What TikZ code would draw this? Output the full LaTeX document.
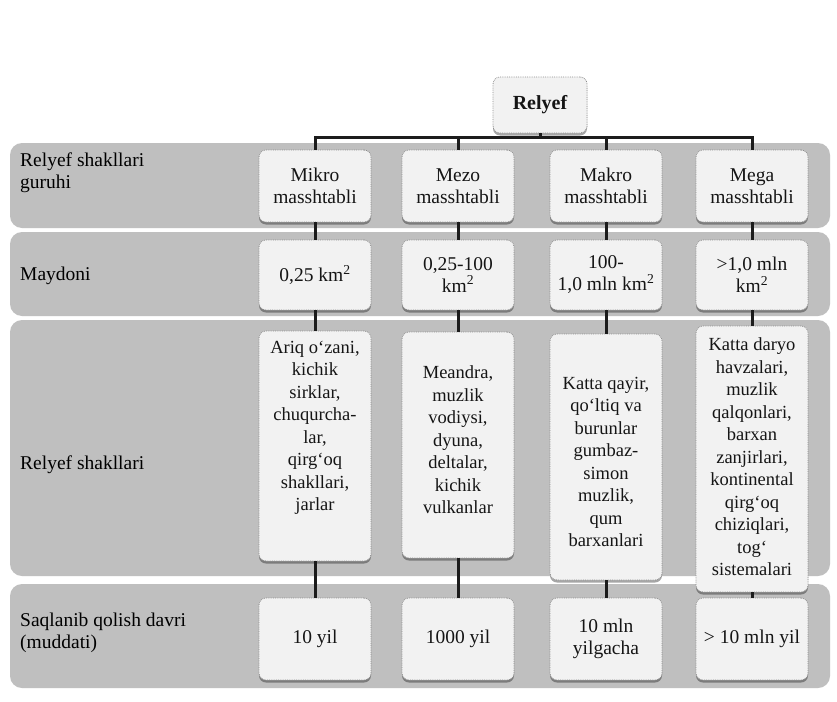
\documentclass[tikz,border=0pt]{standalone}
\usepackage{fontspec}
\setmainfont{Liberation Serif}
\usetikzlibrary{shadows}
\definecolor{bandgray}{HTML}{BFBFBF}
\definecolor{boxfill}{HTML}{F2F2F2}
\definecolor{boxline}{HTML}{8C8C8C}
\definecolor{conn}{HTML}{1C1C1C}
\definecolor{txt}{HTML}{151515}
\begin{document}
\begin{tikzpicture}[x=1pt,y=-1pt,
  bandbox/.style={fill=bandgray, draw=none, rounded corners=12pt},
  cellbox/.style={fill=boxfill, draw=boxline, densely dotted, line width=0.8pt,
    rounded corners=7pt, align=center, inner sep=2pt, minimum width=112pt,
    text=txt, font=\fontsize{19.5}{22}\selectfont,
    drop shadow={shadow xshift=0pt, shadow yshift=-2.5pt, fill=black, opacity=0.35}},
  celltext/.style={align=center, inner sep=0pt, text=txt, font=\fontsize{18.5}{22.5}\selectfont},
  rowlabel/.style={anchor=west, align=left, inner sep=0pt, text=black, font=\fontsize{19.5}{22}\selectfont},
  link/.style={draw=conn, line width=3pt}]
\useasboundingbox (0,0) rectangle (837,701);
\fill[white] (0,0) rectangle (837,701);
% bands
\fill[bandbox] (10,143) rectangle (830,228);
\fill[bandbox] (10,232) rectangle (830,316);
\fill[bandbox] (10,320) rectangle (830,576);
\fill[bandbox] (10,584) rectangle (830,688);
% row labels
\node[rowlabel] (l1) at (20,173) {Relyef shakllari\\guruhi};
\node[rowlabel] (l2) at (20,276) {Maydoni};
\node[rowlabel] (l3) at (20,465) {Relyef shakllari};
\node[rowlabel] (l4) at (20,633) {Saqlanib qolish davri\\(muddati)};
% top node
\node[cellbox, minimum width=94pt, minimum height=56pt, font=\fontsize{20}{22}\selectfont\bfseries] (rel) at (540,105) {Relyef};
% row 1
\node[cellbox, minimum height=72pt] (a1) at (315,186) {Mikro\\masshtabli};
\node[cellbox, minimum height=72pt] (a2) at (458,186) {Mezo\\masshtabli};
\node[cellbox, minimum height=72pt] (a3) at (606,186) {Makro\\masshtabli};
\node[cellbox, minimum height=72pt] (a4) at (752,186) {Mega\\masshtabli};
% row 2
\node[cellbox, minimum height=70pt] (b1) at (315,275) {0,25 km\textsuperscript{2}};
\node[cellbox, minimum height=70pt] (b2) at (458,275) {0,25-100\\km\textsuperscript{2}};
\node[cellbox, minimum height=70pt] (b3) at (606,275) {100-\\1,0 mln km\textsuperscript{2}};
\node[cellbox, minimum height=70pt] (b4) at (752,275) {>1,0 mln\\km\textsuperscript{2}};
% row 3
\node[cellbox, minimum height=230pt] (c1) at (315,446) {};
\node[cellbox, minimum height=226pt] (c2) at (458,445) {};
\node[cellbox, minimum height=246pt] (c3) at (606,457) {};
\node[cellbox, minimum height=266pt] (c4) at (752,459) {};
\node[celltext] (t1) at (315,428) {Ariq o‘zani,\\kichik\\sirklar,\\chuqurcha-\\lar,\\qirg‘oq\\shakllari,\\jarlar};
\node[celltext] (t2) at (458,440) {Meandra,\\muzlik\\vodiysi,\\dyuna,\\deltalar,\\kichik\\vulkanlar};
\node[celltext] (t3) at (606,462) {Katta qayir,\\qo‘ltiq va\\burunlar\\gumbaz-\\simon\\muzlik,\\qum\\barxanlari};
\node[celltext] (t4) at (752,457) {Katta daryo\\havzalari,\\muzlik\\qalqonlari,\\barxan\\zanjirlari,\\kontinental\\qirg‘oq\\chiziqlari,\\tog‘\\sistemalari};
% row 4
\node[cellbox, minimum height=82pt] (d1) at (315,639) {10 yil};
\node[cellbox, minimum height=82pt] (d2) at (458,639) {1000 yil};
\node[cellbox, minimum height=82pt] (d3) at (606,639) {10 mln\\yilgacha};
\node[cellbox, minimum height=82pt] (d4) at (752,639) {> 10 mln yil};
% connectors
\coordinate (bar) at (540,137);
\draw[link] (rel.south) -- (bar);
\draw[link] (a1.north) |- (bar);
\draw[link] (a2.north) |- (bar);
\draw[link] (a3.north) |- (bar);
\draw[link] (a4.north) |- (bar);
\foreach \i in {1,2,3,4}{
  \draw[link] (a\i.south) -- (b\i.north);
  \draw[link] (b\i.south) -- (c\i.north);
  \draw[link] (c\i.south) -- (d\i.north);
}
\end{tikzpicture}
\end{document}
